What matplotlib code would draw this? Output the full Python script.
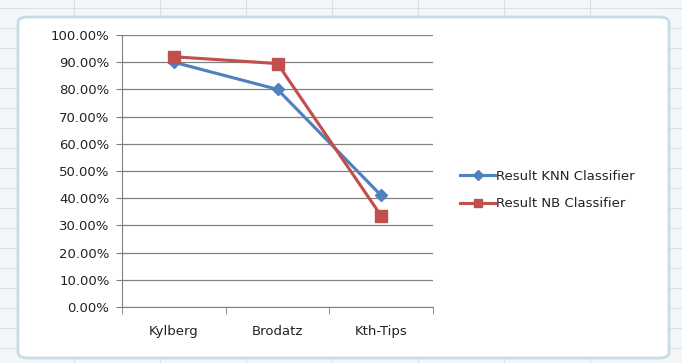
import matplotlib.pyplot as plt
from matplotlib.patches import FancyBboxPatch
from matplotlib.lines import Line2D
from matplotlib.ticker import FuncFormatter, MultipleLocator

# data
datasets = ['Kylberg', 'Brodatz', 'Kth-Tips']
knn = [0.90, 0.80, 0.41]
nb = [0.92, 0.895, 0.335]

blue = '#4F81BD'
red = '#C0504D'
grid = '#808080'

plt.rcParams['font.family'] = ['DejaVu Sans']

W, H = 682, 363
fig = plt.figure(figsize=(W / 100, H / 100), dpi=100)
fig.patch.set_facecolor('#f4f7f9')

# spreadsheet cell lines around the chart
for xc in [74, 160, 246, 332, 418, 504, 590]:
    fig.add_artist(Line2D([xc / W, xc / W], [0, 1], color='#d6e2e8',
                          linewidth=0.8, zorder=-20))
for yc in [8, 28, 48, 68, 88, 108, 128, 148, 168, 188, 208, 228, 248, 268,
           288, 308, 328, 348]:
    fig.add_artist(Line2D([0, 1], [1 - yc / H, 1 - yc / H], color='#d6e2e8',
                          linewidth=0.8, zorder=-20))

# chart area (excel-like frame), behind the axes
frame = FancyBboxPatch((18 / W, 1 - 358 / H), 651 / W, 341 / H,
                       boxstyle='round,pad=0,rounding_size=0.015',
                       transform=fig.transFigure, facecolor='white',
                       edgecolor='#c6dde6', linewidth=2, zorder=-10)
fig.add_artist(frame)

ax = fig.add_axes([122 / W, 1 - 307 / H, 311 / W, 272 / H])
ax.set_facecolor('none')
ax.set_zorder(1)

x = range(len(datasets))
ax.plot(x, knn, color=blue, linewidth=2.25, marker='D', markersize=6,
        label='Result KNN Classifier', zorder=3)
ax.plot(x, nb, color=red, linewidth=2.25, marker='s', markersize=8,
        label='Result NB Classifier', zorder=4)

ax.set_xlim(-0.5, 2.5)
ax.set_ylim(0, 1.0)
ax.yaxis.set_major_locator(MultipleLocator(0.1))
ax.yaxis.set_major_formatter(FuncFormatter(lambda v, p: f'{v * 100:.2f}%'))
ax.set_xticks(list(x))
ax.set_xticklabels(datasets)
ax.set_xticks([-0.5, 0.5, 1.5, 2.5], minor=True)
ax.tick_params(axis='x', which='major', length=0, pad=13, labelsize=9.5,
               labelcolor='#222222')
ax.tick_params(axis='x', which='minor', length=5, color=grid, direction='out')
ax.tick_params(axis='y', length=4, color=grid, labelsize=9.5, pad=5,
               labelcolor='#222222')

ax.grid(axis='y', color=grid, linewidth=0.9)
ax.set_axisbelow(True)
for s in ['top', 'right']:
    ax.spines[s].set_visible(False)
for s in ['left', 'bottom']:
    ax.spines[s].set_color(grid)

leg = ax.legend(loc='center left', bbox_to_anchor=(1.05, 0.43), frameon=False,
                fontsize=9.5, handlelength=2.6, labelspacing=1.1,
                handletextpad=0.1, markerscale=0.8)
for t in leg.get_texts():
    t.set_color('#222222')

fig.savefig('out.png', dpi=100, facecolor=fig.get_facecolor())
